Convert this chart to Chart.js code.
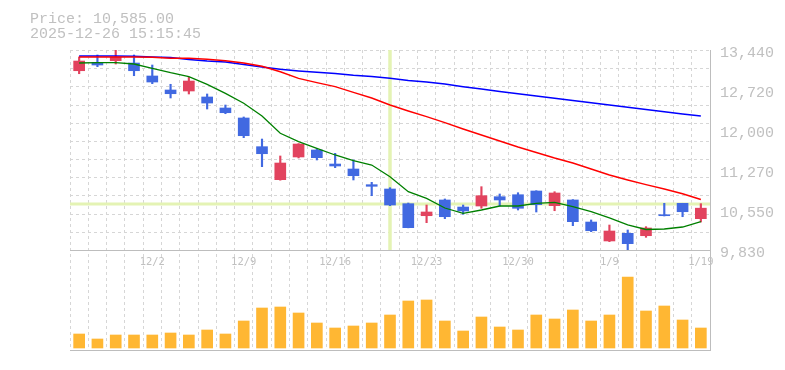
<!DOCTYPE html>
<html><head><meta charset="utf-8">
<script src="https://cdn.jsdelivr.net/npm/chart.js@4/dist/chart.umd.min.js"></script>
<style>html,body{margin:0;padding:0;background:#fff;}#wrap{width:785px;height:370px;position:relative;}</style>
</head><body><div id="wrap"><canvas id="c" width="785" height="370"></canvas></div>
<script>
// ---- data ----
const dates = ['11/26','11/27','11/28','12/1','12/2','12/3','12/4','12/5','12/8','12/9','12/10','12/11','12/12','12/15','12/16','12/17','12/18','12/19','12/22','12/23','12/24','12/25','12/26','12/29','12/30','1/5','1/6','1/7','1/8','1/9','1/13','1/14','1/15','1/16','1/19'];
const tickDates = ['12/2','12/9','12/16','12/23','12/30','1/9','1/19'];
const opens  = [13066,13218,13247,13205,12971,12718,12700,12592,12393,12213,11695,11099,11509,11635,11382,11292,11009,10931,10666,10449,10733,10606,10624,10792,10828,10895,10630,10733,10335,9993,10131,10088,10467,10673,10395];
const highs  = [13314,13350,13440,13350,13169,12821,12947,12646,12447,12231,11833,11527,11750,11659,11575,11455,11052,10955,10678,10642,10751,10642,10973,10841,10864,10900,10882,10740,10372,10281,10191,10251,10673,10673,10666];
const lows   = [13012,13139,13187,12976,12832,12574,12646,12375,12290,11857,11334,11090,11491,11455,11316,11094,10810,10630,10230,10323,10395,10474,10583,10624,10552,10516,10539,10269,10161,9980,9835,10059,10444,10431,10335];
const closes = [13241,13169,13308,13066,12862,12651,12880,12483,12308,11893,11568,11400,11743,11496,11346,11171,10980,10642,10233,10516,10431,10534,10810,10733,10583,10648,10859,10341,10178,10173,9944,10227,10449,10521,10585];
const maShort = [13205,13211,13211,13187,13110,13030,12958,12821,12658,12478,12249,11936,11785,11666,11545,11442,11364,11153,10882,10763,10588,10492,10552,10624,10624,10673,10691,10612,10521,10408,10282,10200,10209,10245,10344];
const maMid   = [13314,13314,13314,13314,13308,13290,13290,13272,13247,13205,13146,13048,12929,12850,12778,12676,12574,12447,12339,12236,12128,12014,11906,11797,11689,11590,11491,11400,11292,11184,11094,11009,10931,10846,10742];
const maLong  = [13332,13332,13332,13326,13314,13305,13269,13241,13223,13178,13133,13092,13061,13037,13016,12985,12962,12929,12889,12862,12826,12778,12736,12691,12651,12610,12570,12528,12489,12447,12408,12366,12326,12285,12249];
const volumes = [280,180,260,260,260,300,260,360,280,540,800,820,700,500,400,440,500,660,940,960,540,340,620,420,360,660,580,760,540,660,1420,740,840,560,400];
const priceTicks = [9830,10552,11274,11996,12718,13440];
const priceTickLabels = ['9,830','10,550','11,270','12,000','12,720','13,440'];
const priceMin = 9830, priceMax = 13440;
const volMin = -40, volMax = 1960;
const headerLines = ['Price: 10,585.00','2025-12-26 15:15:45'];
const crosshairDate = '12/19';
const crosshairPrice = 10660;

// ---- styles ----
const UP = '#e2435e', DOWN = '#4169e1';
const candleColors = opens.map((o,i)=> closes[i] >= o ? UP : DOWN);
const GRID = '#d6d6d6', AXIS = '#bdbdbd', TEXT = '#c0c0c0';

const overlay = {
  id:'overlay',
  beforeDatasetsDraw(chart){
    const ctx = chart.ctx, a = chart.chartArea;
    const y = chart.scales.y, yv = chart.scales.yv, x = chart.scales.x;
    ctx.save();
    ctx.strokeStyle = GRID; ctx.lineWidth = 1; ctx.setLineDash([3,3]);
    const n = 11;
    for (let k=0;k<n;k++){
      const py = Math.round(y.top + (y.bottom - y.top)*k/n) + 0.5;
      ctx.beginPath(); ctx.moveTo(a.left, py); ctx.lineTo(a.right, py); ctx.stroke();
    }
    ctx.setLineDash([]);
    ctx.strokeStyle = '#e4f3b4';
    const cx = x.getPixelForValue(dates.indexOf(crosshairDate));
    ctx.lineWidth = 3.5;
    ctx.beginPath(); ctx.moveTo(cx, y.top); ctx.lineTo(cx, y.bottom); ctx.stroke();
    const cy = y.getPixelForValue(crosshairPrice);
    ctx.lineWidth = 3;
    ctx.beginPath(); ctx.moveTo(a.left, cy); ctx.lineTo(a.right, cy); ctx.stroke();
    ctx.strokeStyle = AXIS; ctx.lineWidth = 1;
    const b1 = Math.round(y.bottom) + 0.5, b2 = Math.round(yv.bottom) + 0.5;
    ctx.beginPath(); ctx.moveTo(a.left, b1); ctx.lineTo(a.right, b1); ctx.stroke();
    ctx.beginPath(); ctx.moveTo(a.left, b2); ctx.lineTo(a.right, b2); ctx.stroke();
    ctx.restore();
  },
  afterDraw(chart){
    const ctx = chart.ctx, x = chart.scales.x, yv = chart.scales.yv;
    ctx.save();
    ctx.fillStyle = TEXT;
    ctx.font = '15px "Liberation Mono", monospace';
    ctx.textAlign = 'left'; ctx.textBaseline = 'alphabetic';
    ctx.fillText(headerLines[0], 30, 23);
    ctx.fillText(headerLines[1], 30, 38);
    ctx.font = '10.5px "DejaVu Sans Mono", monospace';
    ctx.textAlign = 'center'; ctx.textBaseline = 'middle';
    tickDates.forEach(d=>{
      const i = dates.indexOf(d);
      ctx.fillText(d, x.getPixelForValue(i), yv.top + 12.5);
    });
    ctx.restore();
  }
};

new Chart(document.getElementById('c'), {
  type:'bar',
  data:{
    labels: dates,
    datasets:[
      {type:'line', data:maShort, yAxisID:'y', borderColor:'#008000', borderWidth:1.3, pointRadius:0, tension:0, order:1},
      {type:'line', data:maMid, yAxisID:'y', borderColor:'#ff0000', borderWidth:1.4, pointRadius:0, tension:0, order:1},
      {type:'line', data:maLong, yAxisID:'y', borderColor:'#0000ff', borderWidth:1.5, pointRadius:0, tension:0, order:1},
      {type:'bar', data:opens.map((o,i)=>[o, closes[i]]), yAxisID:'y', backgroundColor:candleColors, barThickness:11, grouped:false, order:2},
      {type:'bar', data:lows.map((l,i)=>[l, highs[i]]), yAxisID:'y', backgroundColor:candleColors, barThickness:1.5, grouped:false, order:3},
      {type:'bar', data:volumes, yAxisID:'yv', backgroundColor:'#ffb733', barThickness:11, grouped:false, order:4}
    ]
  },
  options:{
    responsive:false, animation:false, devicePixelRatio:1, events:[],
    layout:{padding:{left:70, top:50, right:0, bottom:20}},
    plugins:{legend:{display:false}, tooltip:{enabled:false}},
    scales:{
      x:{type:'category', offset:true,
         grid:{offset:true, color:GRID, lineWidth:1, drawTicks:false},
         border:{display:false, dash:[3,3]},
         ticks:{display:false}},
      y:{type:'linear', position:'right', stack:'p', stackWeight:2, min:priceMin, max:priceMax,
         afterBuildTicks:s=>{ s.ticks = priceTicks.map(v=>({value:v})); },
         afterFit:s=>{ s.width = 75; },
         grid:{display:false, drawTicks:false},
         border:{display:true, color:AXIS},
         ticks:{padding:10, autoSkip:false, color:TEXT, labelOffset:3.5,
                font:{family:'"Liberation Mono", monospace', size:15},
                callback:(v,i)=>priceTickLabels[i]}},
      yv:{type:'linear', position:'right', stack:'p', stackWeight:1, min:volMin, max:volMax,
         afterFit:s=>{ s.width = 75; },
         grid:{display:false, drawTicks:false},
         border:{display:true, color:AXIS},
         ticks:{display:false}}
    }
  },
  plugins:[overlay]
});
</script>
</body></html>
